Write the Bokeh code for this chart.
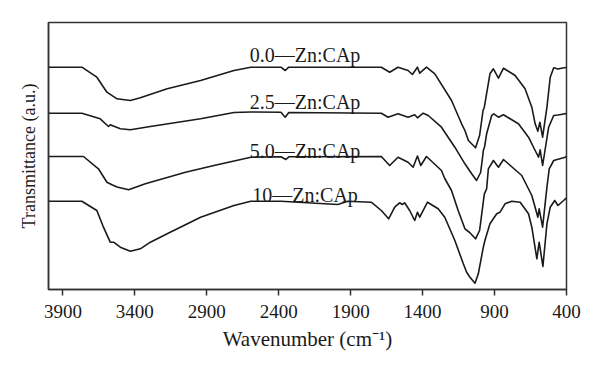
from bokeh.plotting import figure
from bokeh.models import Range1d, FixedTicker, ColumnDataSource
from bokeh.core.properties import value
from bokeh.embed import file_html
from bokeh.resources import INLINE

# ---- data (transmittance in arbitrary, offset units) ----
wn_00 = [4000, 3768, 3664, 3594, 3524, 3431, 3362, 3175, 2943, 2711, 2594, 2385, 2355, 2330,
         1687, 1629, 1571, 1501, 1471, 1436, 1420, 1373, 1315, 1199, 1129, 1106, 1082, 1032,
         1004, 980, 971, 932, 908, 873, 838, 757, 688, 641, 618, 599, 585, 566, 536, 513,
         489, 459, 428, 400]
t_00 = [222.3, 222.3, 212.3, 197.3, 190.7, 189.0, 191.7, 200.7, 209.0, 219.0, 222.3, 222.3, 219.0, 222.3,
        222.3, 217.3, 222.3, 219.0, 215.0, 222.3, 216.3, 222.3, 215.7, 189.0, 165.7, 159.0, 149.0, 141.7,
        154.0, 179.0, 182.3, 215.7, 220.7, 211.3, 221.3, 214.0, 200.7, 182.3, 165.7, 158.3, 167.3, 152.3,
        182.3, 212.3, 221.7, 220.5, 221.5, 222.0]

wn_25 = [4000, 3768, 3641, 3583, 3571, 3501, 3431, 3292, 2943, 2711, 2594, 2385, 2355, 2330,
         1687, 1640, 1571, 1501, 1455, 1436, 1396, 1361, 1269, 1176, 1106, 1059, 1025, 997,
         986, 978, 969, 955, 920, 906, 873, 838, 734, 664, 618, 594, 583, 566, 524, 489,
         459, 400]
t_25 = [176.3, 176.3, 170.7, 163.0, 164.7, 160.7, 159.7, 163.0, 170.7, 177.0, 177.5, 177.3, 172.3, 177.0,
        176.3, 172.3, 175.7, 172.3, 174.7, 171.7, 176.3, 174.0, 162.3, 142.3, 125.7, 115.7, 109.0, 117.0,
        129.0, 139.0, 143.0, 155.7, 174.0, 175.7, 172.3, 174.7, 165.7, 152.3, 139.0, 132.3, 139.7, 124.0,
        162.3, 174.0, 174.5, 176.0]

wn_50 = [4000, 3757, 3653, 3594, 3559, 3524, 3443, 3327, 3048, 2850, 2594, 2385, 2350, 2330,
         1687, 1629, 1571, 1501, 1466, 1436, 1413, 1373, 1269, 1246, 1199, 1153, 1106, 1073,
         1032, 1004, 971, 955, 943, 908, 873, 838, 711, 641, 599, 590, 566, 536, 520, 489,
         409, 400]
t_50 = [133.0, 133.0, 120.7, 107.3, 104.7, 102.5, 99.7, 105.7, 117.3, 124.0, 132.3, 132.7, 130.0, 132.7,
        133.0, 124.0, 132.3, 127.3, 122.3, 133.5, 124.0, 133.0, 119.0, 111.0, 99.0, 79.0, 60.7, 57.0,
        50.7, 59.0, 95.7, 100.7, 120.7, 129.0, 122.3, 130.0, 114.0, 94.0, 72.3, 80.7, 62.3, 102.3, 120.7, 129.0,
        132.3, 133.0]

wn_10 = [4000, 3768, 3664, 3618, 3571, 3548, 3501, 3431, 3362, 3292, 3175, 2943, 2711, 2594,
         2385, 1989, 1920, 1757, 1687, 1636, 1594, 1560, 1541, 1525, 1490, 1455, 1436, 1420,
         1366, 1292, 1246, 1176, 1117, 1094, 1071, 1036, 1013, 978, 967, 932, 885, 862, 827,
         780, 722, 664, 641, 606, 590, 564, 536, 513, 482, 459, 420, 400]
t_10 = [88.3, 88.3, 79.0, 62.3, 47.3, 47.3, 42.3, 38.3, 40.7, 47.3, 55.7, 72.3, 84.0, 88.3,
        88.3, 85.0, 88.3, 87.3, 79.0, 70.7, 82.3, 86.7, 85.0, 86.7, 79.0, 69.0, 77.3, 72.3,
        87.3, 80.7, 72.3, 49.0, 25.7, 17.3, 12.3, 6.3, 15.7, 42.3, 49.0, 65.7, 75.7, 77.3, 85.7,
        88.3, 87.3, 75.7, 62.3, 30.7, 47.3, 23.0, 65.7, 82.3, 89.0, 84.0, 89.0, 91.7]

series_labels = ["0.0\u2014Zn:CAp", "2.5\u2014Zn:CAp", "5.0\u2014Zn:CAp", "10\u2014Zn:CAp"]
label_wn = [2217, 2217, 2217, 2217]
label_t = [235.0, 187.3, 139.0, 95.0]

x_ticks = [3900, 3400, 2900, 2400, 1900, 1400, 900, 400]

FONT = "Liberation Serif"
INK = "#1a1a1a"

p = figure(width=584, height=357, output_backend="svg", toolbar_location=None,
           x_range=Range1d(4000, 400), y_range=Range1d(0, 267),
           min_border_left=48, min_border_right=18, min_border_top=22, min_border_bottom=68)

p.background_fill_color = "white"
p.border_fill_color = "white"
p.outline_line_color = "#333333"
p.outline_line_width = 1.5
p.xgrid.visible = False
p.ygrid.visible = False

for wn, t in [(wn_00, t_00), (wn_25, t_25), (wn_50, t_50), (wn_10, t_10)]:
    p.line(wn, t, line_color=INK, line_width=1.6, line_join="round")

src = ColumnDataSource(dict(x=label_wn, y=label_t, text=series_labels))
p.text(x="x", y="y", text="text", source=src, text_align="center", text_baseline="alphabetic",
       text_font=value(FONT), text_font_size="20px", text_color=INK)

xa = p.xaxis[0]
xa.ticker = FixedTicker(ticks=x_ticks)
xa.axis_line_color = "#333333"
xa.axis_line_width = 1.5
xa.major_tick_line_color = "#333333"
xa.major_tick_line_width = 1.5
xa.major_tick_in = 0
xa.major_tick_out = 6
xa.minor_tick_line_color = None
xa.major_label_text_font = FONT
xa.major_label_text_font_size = "19px"
xa.major_label_text_color = INK
xa.major_label_standoff = 9
xa.axis_label = "Wavenumber (cm\u207b\u00b9)"
xa.axis_label_text_font = FONT
xa.axis_label_text_font_size = "21px"
xa.axis_label_text_font_style = "normal"
xa.axis_label_text_color = INK
xa.axis_label_standoff = 6

ya = p.yaxis[0]
ya.ticker = FixedTicker(ticks=[])
ya.axis_line_color = "#333333"
ya.axis_line_width = 1.5
ya.major_tick_line_color = None
ya.minor_tick_line_color = None
ya.major_label_text_font_size = "0px"
ya.axis_label = "Transmittance (a.u.)"
ya.axis_label_text_font = FONT
ya.axis_label_text_font_size = "18px"
ya.axis_label_text_font_style = "normal"
ya.axis_label_text_color = INK
ya.axis_label_standoff = 10

open("out.html", "w").write(file_html(p, INLINE))
